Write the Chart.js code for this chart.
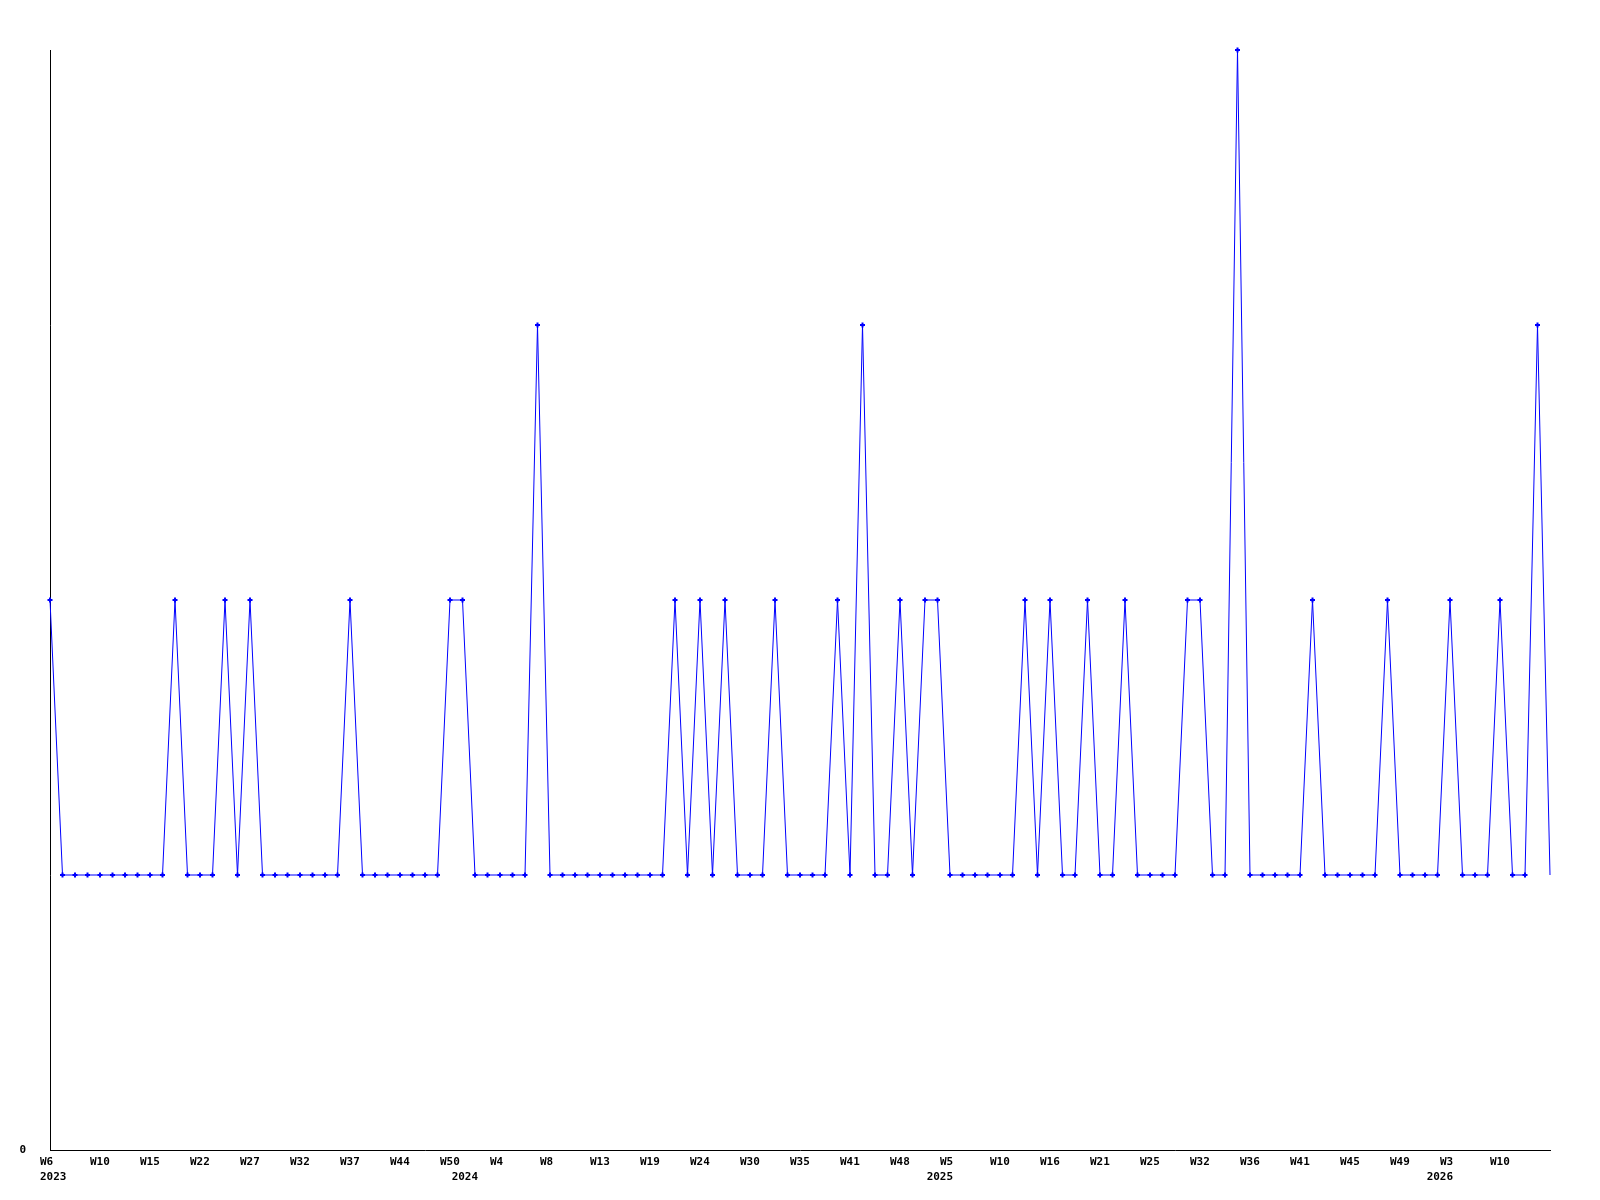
<!DOCTYPE html>
<html>
<head>
<meta charset="utf-8">
<title>Weekly count</title>
<script src="https://cdn.jsdelivr.net/npm/chart.js@4/dist/chart.umd.min.js"></script>
<style>
  html, body { margin: 0; padding: 0; background: #fff; }
  #wrap { width: 1600px; height: 1200px; position: relative; }
</style>
</head>
<body>
<div id="wrap"><canvas id="week-chart"></canvas></div>
<script>
// one value per point (121 weeks)
const weeklyCounts = [
  2, 1, 1, 1, 1, 1, 1, 1, 1, 1,
  2, 1, 1, 1, 2, 1, 2, 1, 1, 1,
  1, 1, 1, 1, 2, 1, 1, 1, 1, 1,
  1, 1, 2, 2, 1, 1, 1, 1, 1, 3,
  1, 1, 1, 1, 1, 1, 1, 1, 1, 1,
  2, 1, 2, 1, 2, 1, 1, 1, 2, 1,
  1, 1, 1, 2, 1, 3, 1, 1, 2, 1,
  2, 2, 1, 1, 1, 1, 1, 1, 2, 1,
  2, 1, 1, 2, 1, 1, 2, 1, 1, 1,
  1, 2, 2, 1, 1, 4, 1, 1, 1, 1,
  1, 2, 1, 1, 1, 1, 1, 2, 1, 1,
  1, 1, 2, 1, 1, 1, 2, 1, 1, 3,
  1
];

// week tick labels, shown on every 4th point
const weekTicks = [
  'W6', 'W10', 'W15', 'W22', 'W27', 'W32', 'W37', 'W44', 'W50',
  'W4', 'W8', 'W13', 'W19', 'W24', 'W30', 'W35', 'W41', 'W48',
  'W5', 'W10', 'W16', 'W21', 'W25', 'W32', 'W36', 'W41', 'W45', 'W49',
  'W3', 'W10'
];
const tickEvery = 4;

// year labels and where they fall on the week axis (point index)
const yearLabels = ['2023', '2024', '2025', '2026'];
const yearAt = [0, 32.93, 70.93, 110.93];

const yMin = 0;
const yMax = 4;

// every point needs a label, even the unlabelled ones (else the point is dropped)
const categories = weeklyCounts.map((_, i) =>
  (i % tickEvery === 0 && weekTicks[i / tickEvery]) || '');

const FONT = { family: "'DejaVu Sans Mono', monospace", size: 11, weight: 'bold' };
const TICK_PAD = 6;

// second label row: years
const yearRow = {
  id: 'yearRow',
  afterDraw(chart) {
    const x = chart.scales.x;
    const ctx = chart.ctx;
    ctx.save();
    ctx.font = `bold ${FONT.size}px ${FONT.family}`;
    ctx.fillStyle = '#000';
    ctx.textAlign = 'left';
    ctx.textBaseline = 'middle';
    const y = x.top + TICK_PAD + FONT.size * 1.2 / 2 + 15;
    yearLabels.forEach((lbl, i) => {
      ctx.fillText(lbl, x.getPixelForValue(yearAt[i]) - 10, y);
    });
    ctx.restore();
  }
};

new Chart(document.getElementById('week-chart'), {
  type: 'line',
  data: {
    labels: categories,
    datasets: [{
      data: weeklyCounts,
      borderColor: '#0000ff',
      backgroundColor: '#0000ff',
      borderWidth: 1,
      tension: 0,
      fill: false,
      clip: false,
      pointStyle: 'cross',
      // the last (open) week is drawn without a marker
      pointRadius: ctx => ctx.dataIndex === weeklyCounts.length - 1 ? 0 : 2.5,
      pointBorderWidth: 2,
      pointBorderColor: '#0000ff'
    }]
  },
  options: {
    responsive: true,
    maintainAspectRatio: false,
    animation: false,
    devicePixelRatio: 1,
    layout: { padding: { left: 0, top: 50, right: 50, bottom: 0 } },
    plugins: {
      legend: { display: false },
      tooltip: { enabled: false }
    },
    scales: {
      x: {
        type: 'category',
        grid: { display: false, drawTicks: false },
        border: { display: true, color: '#000', width: 1 },
        ticks: {
          autoSkip: false,
          maxRotation: 0,
          minRotation: 0,
          align: 'start',
          labelOffset: -10,
          padding: TICK_PAD,
          color: '#000',
          font: FONT
        },
        afterFit: s => { s.height = 50; }
      },
      y: {
        min: yMin,
        max: yMax,
        grid: { display: false, drawTicks: false },
        border: { display: true, color: '#000', width: 1 },
        ticks: { padding: 24, color: '#000', font: FONT },
        afterBuildTicks: s => { s.ticks = [{ value: yMin }]; },
        afterFit: s => { s.width = 50; }
      }
    }
  },
  plugins: [yearRow]
});
</script>
</body>
</html>
